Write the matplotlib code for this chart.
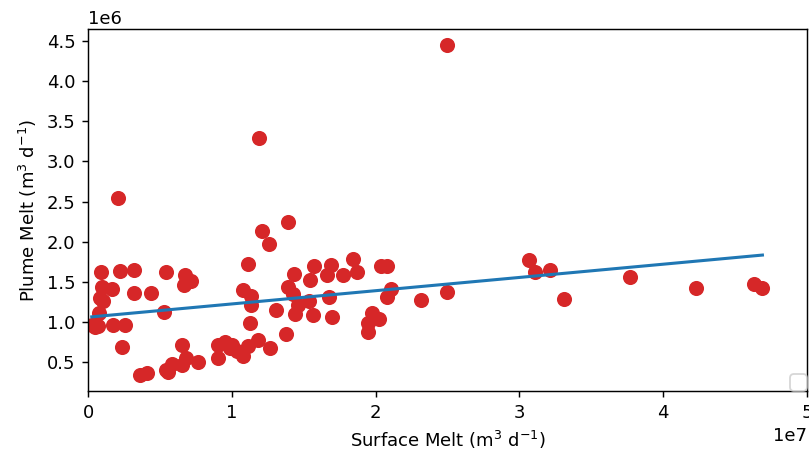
import numpy as np
import matplotlib
matplotlib.use("Agg")
import matplotlib.pyplot as plt

# Surface melt (units of 1e7 m3/d) and plume melt (units of 1e6 m3/d)
surface_melt = [
    0.211, 0.09, 0.223, 0.322, 0.542, 0.675, 0.716, 0.67, 0.10, 0.165,
    0.083, 0.106, 0.322, 0.438, 0.076, 0.528, 0.026, 0.072, 0.049, 0.176,
    0.257, 0.239, 0.362, 0.412, 0.542, 0.559, 0.582, 0.651, 0.651, 0.68,
    0.767, 0.906, 0.953, 0.906, 0.987, 1.034, 1.08, 1.115, 1.184, 1.266,
    1.127, 1.19, 1.21, 1.26, 1.39, 1.11, 1.08, 1.133, 1.133, 1.307,
    1.377, 1.432, 1.57, 1.544, 1.389, 1.428, 1.462, 1.537, 1.44, 1.567,
    1.688, 1.66, 1.775, 1.845, 1.868, 1.678, 1.70, 2.04, 2.077, 2.11,
    2.077, 1.973, 2.026, 1.95, 1.945, 2.313, 2.499, 2.497, 3.065, 3.108,
    3.21, 3.308, 3.77, 4.23, 4.63, 4.69, 1.0,
]
plume_melt = [
    2.55, 1.62, 1.64, 1.65, 1.62, 1.59, 1.51, 1.46, 1.44, 1.41,
    1.30, 1.27, 1.36, 1.36, 1.116, 1.125, 0.97, 0.95, 0.94, 0.97,
    0.97, 0.69, 0.35, 0.375, 0.41, 0.38, 0.48, 0.47, 0.72, 0.555,
    0.51, 0.72, 0.76, 0.555, 0.68, 0.64, 0.575, 0.70, 0.78, 0.68,
    0.99, 3.29, 2.13, 1.97, 2.24, 1.72, 1.40, 1.325, 1.22, 1.146,
    0.85, 1.60, 1.70, 1.52, 1.44, 1.35, 1.22, 1.26, 1.10, 1.09,
    1.71, 1.59, 1.59, 1.78, 1.62, 1.31, 1.07, 1.70, 1.70, 1.41,
    1.31, 1.12, 1.04, 0.99, 0.875, 1.28, 1.375, 4.44, 1.77, 1.63,
    1.65, 1.29, 1.56, 1.42, 1.47, 1.425, 0.72,
]

x = np.array(surface_melt) * 1e7
y = np.array(plume_melt) * 1e6

dpi = 130
fig = plt.figure(figsize=(809 / dpi, 458 / dpi), dpi=dpi)
ax = fig.add_axes([88 / 809, 1 - 391 / 458, (807 - 88) / 809, (391 - 29) / 458])

ax.scatter(x, y, color="#d62728", s=54, zorder=2)

coef = np.polyfit(x, y, 1)
xs = np.array([x.min(), x.max()])
ax.plot(xs, np.polyval(coef, xs), color="#1f77b4", lw=1.7, zorder=3)

ax.set_xlim(0, 5e7)
ax.set_xlabel("Surface Melt (m$^3$ d$^{-1}$)")
ax.set_ylabel("Plume Melt (m$^3$ d$^{-1}$)")
ax.legend(loc="lower right", bbox_to_anchor=(1.0, 0.0), borderaxespad=0.0,
          borderpad=0.47)

fig.savefig("out.png", dpi=dpi)
